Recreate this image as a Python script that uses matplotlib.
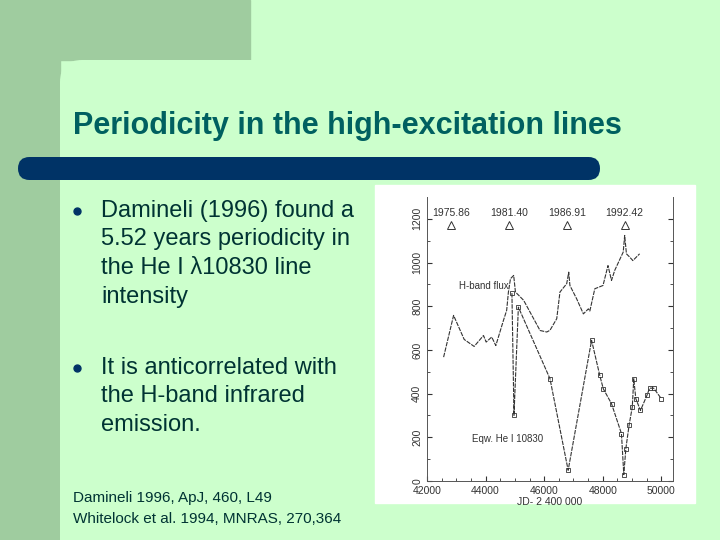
import matplotlib
matplotlib.use("Agg")
import matplotlib.pyplot as plt
from matplotlib.patches import Rectangle, FancyBboxPatch

plt.rcParams['font.family'] = ['Liberation Sans', 'DejaVu Sans']

# H-band flux (JD-2400000, flux)
h_jd = [42567, 42908, 43270, 43610, 43929, 44020, 44210, 44350, 44610, 44720, 44780,
        44850, 44960, 45020, 45300, 45860, 46090, 46200, 46430, 46540, 46770, 46840,
        46880, 47110, 47340, 47510, 47560, 47730, 48010, 48180, 48300, 48410, 48700,
        48750, 48810, 48920, 49030, 49260]
h_flux = [567, 758, 648, 616, 666, 636, 659, 620, 735, 781, 865,
          926, 941, 865, 827, 689, 682, 690, 743, 865, 903, 956,
          895, 834, 765, 788, 778, 880, 895, 986, 918, 964, 1048,
          1124, 1040, 1025, 1009, 1040]

# Eqw He I 10830
he_jd = [44900, 44970, 45120, 46200, 46820, 47620, 47900, 48020, 48300, 48640, 48720,
         48790, 48900, 49010, 49060, 49130, 49290, 49510, 49600, 49740, 50000]
he_eqw = [860, 300, 796, 468, 49, 644, 483, 422, 354, 217, 29,
          148, 255, 339, 468, 377, 323, 392, 425, 425, 377]

periastron_jd = [42820, 44815, 46790, 48750]
periastron_lbl = ['1975.86', '1981.40', '1986.91', '1992.42']

W, H = 720, 540
fig = plt.figure(figsize=(7.2, 5.4), dpi=100)
bg = fig.add_axes([0, 0, 1, 1])
bg.set_xlim(0, W)
bg.set_ylim(H, 0)
bg.axis('off')

light = '#ccffcc'
dark = '#9fcc9f'
bg.add_patch(Rectangle((0, 0), W, H, color=light))
bg.add_patch(Rectangle((0, 0), 60, H, color=dark))
bg.add_patch(Rectangle((0, 0), 250, 60, color=dark))
bg.add_patch(FancyBboxPatch((60, 60), 700, 600, boxstyle="round,pad=0,rounding_size=22",
                            color=light, lw=0))
bg.add_patch(FancyBboxPatch((18, 157), 582, 23, boxstyle="round,pad=0,rounding_size=11.5",
                            color='#003366', lw=0))

bg.text(73, 134, 'Periodicity in the high-excitation lines', fontsize=22,
        fontweight='bold', color='#006060', va='baseline')

txt = '#003333'
bullets = [(73, 217, ['Damineli (1996) found a', '5.52 years periodicity in',
                      'the He I \u03bb10830 line', 'intensity']),
           (73, 374, ['It is anticorrelated with', 'the H-band infrared', 'emission.'])]
for bx, by, lines in bullets:
    bg.plot(bx + 4, by - 6, 'o', ms=5, color='#003366')
    for i, ln in enumerate(lines):
        bg.text(101, by + i * 28.5, ln, fontsize=17, color=txt, va='baseline')

bg.text(73, 502, 'Damineli 1996, ApJ, 460, L49', fontsize=11, color=txt, va='baseline')
bg.text(73, 523, 'Whitelock et al. 1994, MNRAS, 270,364', fontsize=11, color=txt, va='baseline')

bg.add_patch(Rectangle((375, 185), 320, 318, color='white'))

ax = fig.add_axes([427 / W, 1 - 481 / H, 246 / W, 284 / H])
ax.plot(h_jd, h_flux, color='#333333', lw=0.8, ls=(0, (4, 1)))
ax.plot(he_jd, he_eqw, color='#333333', lw=0.8, ls=(0, (4, 1)), marker='s', ms=3,
        mfc='none', mew=0.6)
ax.plot(periastron_jd, [1170] * 4, '^', ms=6, mfc='none', mec='#333333', mew=0.7)
for x, l in zip(periastron_jd, periastron_lbl):
    ax.text(x, 1205, l, ha='center', va='bottom', fontsize=7.5, color='#333333')
ax.text(43100, 880, 'H-band flux', fontsize=7, color='#333333')
ax.text(43530, 180, 'Eqw. He I 10830', fontsize=7, color='#333333')
ax.set_xlim(42000, 50400)
ax.set_ylim(0, 1300)
ax.set_xticks([42000, 44000, 46000, 48000, 50000])
ax.set_xticks(range(42000, 50400, 500), minor=True)
ax.set_yticks(range(0, 1300, 200))
ax.set_yticks(range(0, 1300, 100), minor=True)
ax.tick_params(labelsize=7.5, colors='#333333', direction='in', top=False, right=True,
               which='both')
ax.tick_params(axis='y', labelrotation=90)
for t in ax.get_yticklabels():
    t.set_va('center')
ax.set_xlabel('JD- 2 400 000', fontsize=7.5, color='#333333', labelpad=1)
for s in ax.spines.values():
    s.set_color('#555555')
    s.set_linewidth(0.7)
ax.spines['top'].set_visible(False)

fig.savefig('out.png', dpi=100)
